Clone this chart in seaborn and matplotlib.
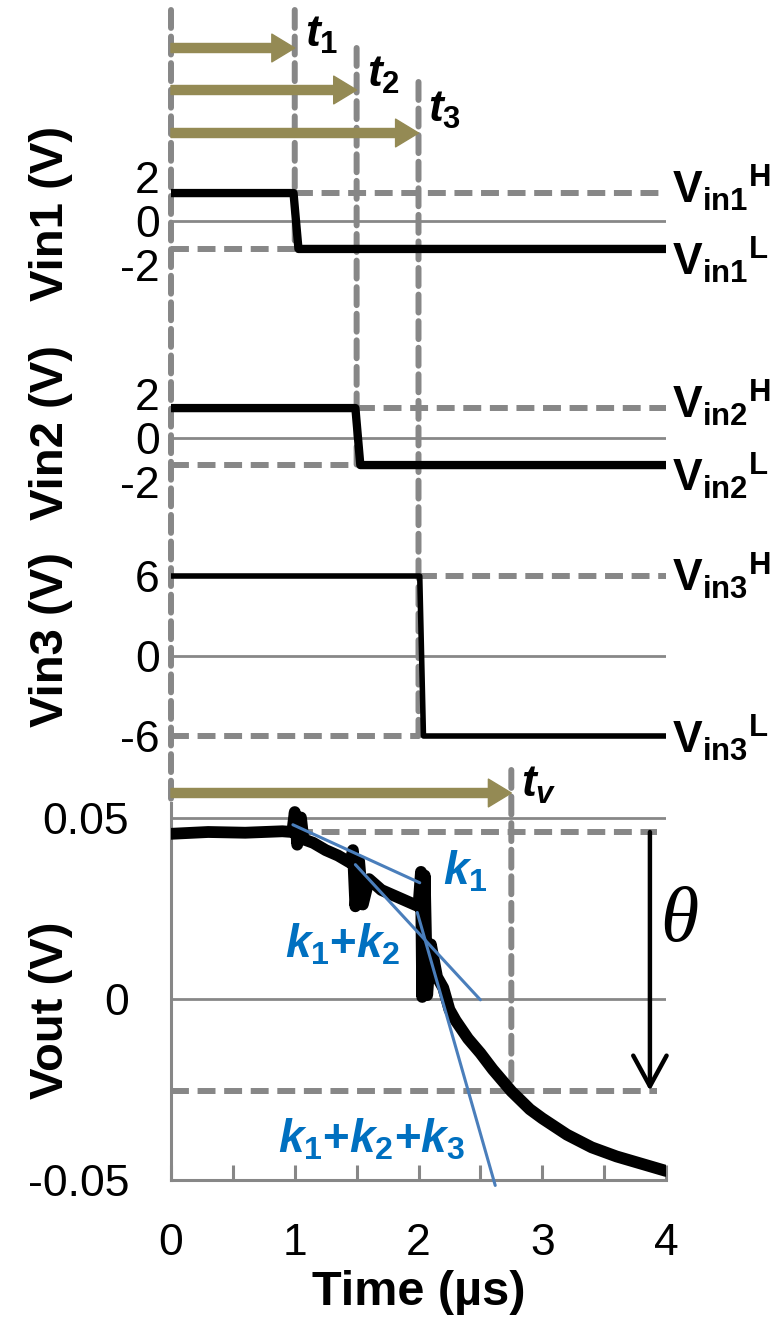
import matplotlib
matplotlib.use("Agg")
import matplotlib.pyplot as plt
import matplotlib.transforms as mtransforms
from matplotlib.patches import ConnectionPatch
import seaborn as sns

# ---- values ----
t_max = 4.0
t1, t2, t3, tv = 1.0, 1.5, 2.0, 2.75

vin1_t = [0.0, 0.99, 1.03, 4.0]
vin1_v = [1.27, 1.27, -1.27, -1.27]
vin1_high, vin1_low = 1.27, -1.27

vin2_t = [0.0, 1.49, 1.53, 4.0]
vin2_v = [1.36, 1.36, -1.23, -1.23]
vin2_high, vin2_low = 1.36, -1.23

vin3_t = [0.0, 2.01, 2.04, 4.0]
vin3_v = [6.0, 6.0, -6.0, -6.0]
vin3_high, vin3_low = 6.0, -6.0

vout_t = [0.0, 0.3, 0.6, 0.9, 0.98, 1.0, 1.02, 1.05, 1.07, 1.15, 1.25, 1.35,
          1.45, 1.47, 1.49, 1.52, 1.55, 1.6, 1.7, 1.8, 1.9, 2.0, 2.02, 2.03,
          2.05, 2.07, 2.1, 2.15, 2.2, 2.25, 2.3, 2.4, 2.5, 2.6, 2.75, 2.9,
          3.0, 3.2, 3.4, 3.6, 3.8, 3.95, 4.0]
vout_v = [0.0455, 0.0460, 0.0458, 0.0462, 0.0460, 0.0515, 0.0425, 0.0500,
          0.0440, 0.0430, 0.0410, 0.0395, 0.0375, 0.0410, 0.0255, 0.0380,
          0.0260, 0.0330, 0.0300, 0.0285, 0.0270, 0.0255, 0.0350, 0.0005,
          0.0340, 0.0010, 0.0150, 0.0060, 0.0030, -0.0030, -0.0060, -0.0110,
          -0.0150, -0.0195, -0.0255, -0.0305, -0.0330, -0.0375, -0.0410,
          -0.0435, -0.0455, -0.0470, -0.0475]
vout_high, vout_low = 0.046, -0.0254
theta_t = 3.87

k1_t, k1_v = [0.985, 2.01], [0.048, 0.032]
k12_t, k12_v = [1.49, 2.50], [0.037, -0.0003]
k123_t, k123_v = [1.99, 2.62], [0.0238, -0.0515]

vin_ticks = [-2, 0, 2]
vin_tick_labels = ["-2", "0", "2"]
vin3_ticks = [-6, 0, 6]
vin3_tick_labels = ["-6", "0", "6"]
vout_ticks = [-0.05, 0, 0.05]
vout_tick_labels = ["-0.05", "0", "0.05"]
time_ticks = [0, 1, 2, 3, 4]
time_minor = [0.5, 1.5, 2.5, 3.5]

# ---- style ----
sns.set_theme(style="white")
plt.rcParams["font.family"] = ["Liberation Sans", "DejaVu Sans"]
plt.rcParams["axes.unicode_minus"] = False
plt.rcParams["mathtext.fontset"] = "custom"
plt.rcParams["mathtext.rm"] = "Liberation Sans:bold"
plt.rcParams["mathtext.it"] = "Liberation Sans:bold:italic"
plt.rcParams["mathtext.bf"] = "Liberation Sans:bold"
for key in ("text.color", "axes.labelcolor", "xtick.labelcolor", "ytick.labelcolor"):
    plt.rcParams[key] = "black"

GRAY = "#878787"
OLIVE = "#948A54"
BLUE_LINE = "#4A7EBB"
BLUE_TEXT = "#0070C0"
DASH = (0, (3.0, 1.45))
DASH_LW = 4.3
TICK_FS = 32

W, H = 779, 1319
X0, X1 = 171, 666


def rect(top_px, bottom_px):
    return [X0 / W, 1 - bottom_px / H, (X1 - X0) / W, (bottom_px - top_px) / H]


def fy(px):
    return 1 - px / H


fig = plt.figure(figsize=(W / 100, H / 100), dpi=100)
ax1 = fig.add_axes(rect(172.6, 269.4))
ax2 = fig.add_axes(rect(389.6, 486.4))
ax3 = fig.add_axes(rect(572, 740))
ax4 = fig.add_axes(rect(803, 1180))

for ax in (ax1, ax2, ax3, ax4):
    ax.set_xlim(0, t_max)
    ax.set_facecolor("none")
    for s in ax.spines.values():
        s.set_visible(False)

ax1.set_ylim(-2.2, 2.2)
ax2.set_ylim(-2.2, 2.2)
ax3.set_ylim(-6.3, 6.3)
ax4.set_ylim(-0.05, 0.054)

# input panels: (axis, t, v, high, low, switch time, ticks, labels, ylabel, label y px, lw, name, H offset, L offset)
panels = [
    (ax1, vin1_t, vin1_v, vin1_high, vin1_low, t1, vin_ticks, vin_tick_labels, "Vin1 (V)", 213, 6, "1", 4, -8),
    (ax2, vin2_t, vin2_v, vin2_high, vin2_low, t2, vin_ticks, vin_tick_labels, "Vin2 (V)", 433, 6, "2", 4, -8),
    (ax3, vin3_t, vin3_v, vin3_high, vin3_low, t3, vin3_ticks, vin3_tick_labels, "Vin3 (V)", 640, 4, "3", 0, -1),
]
for ax, tt, vv, hi, lo, tk, ticks, labels, ylab, ylab_px, lw, n, dh, dl in panels:
    ax.axhline(0, color=GRAY, lw=2, zorder=1)
    ax.hlines(hi, tk, t_max, colors=GRAY, lw=DASH_LW, linestyles=[DASH], zorder=2)
    ax.hlines(lo, 0, tk, colors=GRAY, lw=DASH_LW, linestyles=[DASH], zorder=2)
    sns.lineplot(x=tt, y=vv, ax=ax, color="black", linewidth=lw, estimator=None,
                 sort=False, solid_capstyle="round", solid_joinstyle="round", zorder=3)
    ax.set_xticks([])
    ax.set_yticks(ticks)
    ax.set_yticklabels(labels)
    ax.tick_params(axis="y", length=0, pad=8, labelsize=TICK_FS)
    ax.set_xlabel("")
    ax.set_ylabel(ylab, fontsize=34, fontweight="bold", va="center")
    ax.yaxis.set_label_coords(51 / W, fy(ylab_px), transform=fig.transFigure)
    ax.annotate(r"$\mathrm{V}_{\mathrm{in%s}}{}^{\mathrm{H}}$" % n, xy=(t_max, hi),
                xytext=(4, dh), textcoords="offset points", ha="left", va="center",
                fontsize=32, annotation_clip=False)
    ax.annotate(r"$\mathrm{V}_{\mathrm{in%s}}{}^{\mathrm{L}}$" % n, xy=(t_max, lo),
                xytext=(4, dl), textcoords="offset points", ha="left", va="center",
                fontsize=32, annotation_clip=False)

# output panel
for s in ("left", "bottom"):
    ax4.spines[s].set_visible(True)
    ax4.spines[s].set_color(GRAY)
    ax4.spines[s].set_linewidth(2.2)
ax4.set_yticks(vout_ticks)
ax4.set_yticklabels(vout_tick_labels)
ax4.yaxis.grid(True, color=GRAY, lw=2)
ax4.set_axisbelow(True)
ax4.set_xticks(time_ticks)
ax4.set_xticks(time_minor, minor=True)
ax4.tick_params(axis="x", which="both", direction="in", length=11, width=2.2,
                color=GRAY, bottom=True, pad=31, labelsize=TICK_FS)
ax4.tick_params(axis="y", length=0, pad=30, labelsize=TICK_FS)

ax4.hlines(vout_high, t1, theta_t + 0.06, colors=GRAY, lw=DASH_LW, linestyles=[DASH], zorder=2)
ax4.hlines(vout_low, 0, theta_t + 0.06, colors=GRAY, lw=DASH_LW, linestyles=[DASH], zorder=2)
sns.lineplot(x=vout_t, y=vout_v, ax=ax4, color="black", linewidth=8.5, estimator=None,
             sort=False, solid_capstyle="round", solid_joinstyle="round", zorder=3)
for kt, kv in ((k1_t, k1_v), (k12_t, k12_v), (k123_t, k123_v)):
    sns.lineplot(x=kt, y=kv, ax=ax4, color=BLUE_LINE, linewidth=2.2, estimator=None,
                 sort=False, zorder=4, clip_on=False)

ax4.text(2.38, 0.035, r"$\mathit{k}_{\mathit{1}}$", color=BLUE_TEXT, fontsize=33,
         ha="center", va="center")
ax4.text(1.39, 0.0149, r"$\mathit{k}_{\mathit{1}}\mathbf{+}\mathit{k}_{\mathit{2}}$",
         color=BLUE_TEXT, fontsize=33, ha="center", va="center")
ax4.text(1.62, -0.039,
         r"$\mathit{k}_{\mathit{1}}\mathbf{+}\mathit{k}_{\mathit{2}}\mathbf{+}\mathit{k}_{\mathit{3}}$",
         color=BLUE_TEXT, fontsize=33, ha="center", va="center")

ax4.annotate("", xy=(theta_t, vout_low), xytext=(theta_t, vout_high),
             arrowprops=dict(arrowstyle="->,head_length=1.1,head_width=0.6", lw=3.2,
                             color="black", shrinkA=0, shrinkB=0, mutation_scale=20))
ax4.text(theta_t + 0.24, 0.021, "\u03b8", fontsize=56, fontstyle="italic",
         family="Liberation Serif", ha="center", va="center")

ax4.set_xlabel("Time (\u00b5s)", fontsize=35, fontweight="bold", labelpad=4)
ax4.set_ylabel("Vout (V)", fontsize=34, fontweight="bold", va="center")
ax4.yaxis.set_label_coords(51 / W, fy(1010), transform=fig.transFigure)

# vertical dashed time markers spanning the panels
blend = mtransforms.blended_transform_factory(ax4.transData, fig.transFigure)
markers = [
    (0.0, 10, ax4, ax4.get_ylim()[1]),
    (t1, 10, ax1, vin1_low),
    (t2, 48, ax2, vin2_low),
    (t3, 82, ax3, vin3_low),
    (tv, 770, ax4, vout_low),
]
for tk, top_px, ax, yb in markers:
    con = ConnectionPatch(xyA=(tk, fy(top_px)), coordsA=blend, xyB=(tk, yb),
                          coordsB=ax.transData, color=GRAY, lw=DASH_LW, linestyle=DASH,
                          zorder=-1)
    fig.add_artist(con)

# olive duration arrows and time labels
arrows = [(t1, 48, r"$\mathit{t}_{\mathit{1}}$", 35),
          (t2, 90, r"$\mathit{t}_{\mathit{2}}$", 75),
          (t3, 133, r"$\mathit{t}_{\mathit{3}}$", 110),
          (tv, 793, r"$\mathit{t}_{\mathit{v}}$", 785)]
for tk, y_px, lab, lab_px in arrows:
    fig.add_artist(ConnectionPatch(
        xyA=(0, fy(y_px)), coordsA=blend, xyB=(tk, fy(y_px)), coordsB=blend,
        arrowstyle="simple,head_length=1.65,head_width=2.0,tail_width=0.65",
        mutation_scale=10, color=OLIVE, shrinkA=0, shrinkB=0, zorder=5))
    fig.text(tk + 0.08, fy(lab_px), lab, transform=blend, fontsize=32,
             ha="left", va="center")

fig.savefig("out.png", dpi=100)
